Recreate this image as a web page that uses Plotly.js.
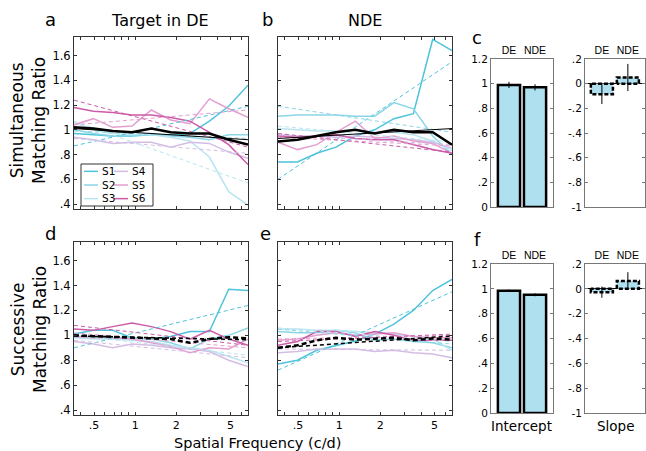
<!DOCTYPE html>
<html><head><meta charset="utf-8">
<script src="https://cdn.plot.ly/plotly-3.0.1.min.js"></script>
<style>html,body{margin:0;padding:0;background:#fff}#chart{width:646px;height:451px}</style>
</head><body><div id="chart"></div>
<script>
// ---------- data ----------
const freq = [0.356, 0.494, 0.684, 0.948, 1.314, 1.82, 2.52, 3.50, 4.85, 6.72];
const subjects = ['S1', 'S2', 'S3', 'S4', 'S5', 'S6'];

// Simultaneous matching, target in DE (panel a)
const simDE = [
  [0.97, 0.96, 0.95, 0.95, 0.96, 0.96, 0.97, 1.07, 1.19, 1.36],
  [1.00, 0.97, 0.95, 0.96, 0.97, 0.95, 0.94, 0.92, 0.96, 0.96],
  [1.06, 1.00, 0.97, 0.96, 0.96, 0.94, 0.91, 0.78, 0.50, 0.39],
  [0.94, 0.92, 0.89, 0.90, 0.90, 0.86, 0.90, 0.89, 0.82, 0.77],
  [1.04, 1.09, 1.02, 1.03, 1.16, 1.08, 1.05, 1.25, 1.17, 1.10],
  [1.18, 1.15, 1.14, 1.12, 1.12, 1.10, 1.07, 0.98, 0.88, 0.72]
];
const simDEfit = [[0.87, 1.19], [0.99, 0.93], [1.07, 0.57], [0.93, 0.81], [1.04, 1.16], [1.24, 0.86]];
const simDEmean = [1.02, 1.01, 0.99, 0.98, 1.01, 0.98, 0.97, 0.97, 0.92, 0.88];
const simDEmeanFit = [1.01, 0.92];

// Simultaneous matching, target in NDE (panel b)
const simNDE = [
  [0.74, 0.74, 0.81, 0.86, 0.95, 1.00, 1.09, 1.13, 1.73, 1.64],
  [1.11, 1.12, 1.12, 1.12, 1.11, 1.11, 1.22, 1.17, 0.95, 0.80],
  [1.01, 1.00, 0.99, 0.99, 1.00, 0.98, 0.98, 0.96, 0.91, 0.83],
  [0.96, 0.95, 0.95, 0.94, 0.95, 0.94, 0.93, 0.92, 0.90, 0.85],
  [0.90, 0.84, 0.88, 0.98, 1.07, 0.93, 0.95, 0.91, 0.89, 0.81],
  [0.95, 0.94, 0.95, 0.96, 0.93, 0.92, 0.92, 0.88, 0.84, 0.81]
];
const simNDEfit = [[0.60, 1.55], [1.19, 0.98], [1.03, 0.90], [0.96, 0.88], [0.94, 0.87], [0.97, 0.82]];
const simNDEmean = [0.905, 0.92, 0.95, 0.98, 1.00, 0.97, 1.00, 0.98, 0.98, 0.88];
const simNDEmeanFit = [0.93, 1.01];

// Successive matching, target in DE (panel d)
const sucDE = [
  [1.01, 1.04, 1.04, 0.98, 0.97, 0.99, 1.03, 1.03, 1.37, 1.36],
  [0.99, 0.99, 0.98, 0.98, 0.97, 0.94, 0.89, 0.97, 1.00, 1.06],
  [0.98, 0.97, 0.97, 0.96, 0.95, 0.92, 0.90, 0.88, 0.83, 0.78],
  [0.95, 0.93, 0.90, 0.93, 0.92, 0.90, 0.89, 0.87, 0.80, 0.75],
  [0.99, 0.98, 0.98, 0.97, 0.94, 0.91, 0.86, 0.90, 0.89, 0.97],
  [1.05, 1.04, 1.07, 1.10, 1.07, 1.03, 0.97, 1.04, 0.97, 0.92]
];
const sucDEfit = [[0.90, 1.24], [0.99, 0.96], [1.00, 0.84], [0.96, 0.82], [1.02, 0.90], [1.08, 0.92]];
const sucDEmean = [1.00, 0.995, 0.99, 0.985, 0.98, 0.97, 0.94, 0.97, 0.985, 0.975];
const sucDEmeanFit = [0.995, 0.965];

// Successive matching, target in NDE (panel e)
const sucNDE = [
  [0.77, 0.80, 0.88, 0.92, 0.955, 1.01, 1.09, 1.20, 1.36, 1.45],
  [1.03, 1.02, 1.02, 1.04, 1.02, 0.96, 0.97, 0.95, 0.94, 0.90],
  [1.05, 1.05, 1.04, 1.04, 1.03, 1.02, 1.01, 0.99, 0.97, 0.88],
  [0.86, 0.87, 0.89, 0.89, 0.89, 0.87, 0.88, 0.86, 0.85, 0.82],
  [0.96, 0.97, 1.00, 1.02, 1.00, 1.01, 1.02, 0.99, 0.98, 0.98],
  [0.92, 0.95, 1.03, 1.03, 0.99, 1.03, 1.00, 0.96, 0.96, 0.96]
];
const sucNDEfit = [[0.72, 1.35], [1.05, 0.93], [1.06, 0.95], [0.89, 0.88], [0.97, 1.00], [0.95, 1.01]];
const sucNDEmean = [0.90, 0.92, 0.96, 0.98, 0.965, 0.97, 0.98, 0.96, 0.975, 0.965];
const sucNDEmeanFit = [0.90, 0.995];

// Bar panels (c, f)
const eyes = ['DE', 'NDE'];
const simIntercept = [0.99, 0.97];
const simInterceptErr = [0.025, 0.025];
const simSlope = [-0.085, 0.05];
const simSlopeErr = [0.08, 0.11];
const sucIntercept = [0.985, 0.952];
const sucInterceptErr = [0.01, 0.012];
const sucSlope = [-0.027, 0.064];
const sucSlopeErr = [0.045, 0.07];

const ratioTicks = [0.4, 0.6, 0.8, 1.0, 1.2, 1.4, 1.6];
const ratioLabels = ['.4', '.6', '.8', '1', '1.2', '1.4', '1.6'];
const freqTicks = [0.4, 0.5, 0.6, 0.7, 0.8, 0.9, 1, 2, 3, 4, 5, 6];
const freqLabels = ['', '.5', '', '', '', '', '1', '2', '', '', '5', ''];
const interceptTicks = [0, 0.2, 0.4, 0.6, 0.8, 1.0, 1.2];
const interceptLabels = ['0', '.2', '.4', '.6', '.8', '1', '1.2'];
const slopeTicks = [-1, -0.8, -0.6, -0.4, -0.2, 0, 0.2];
const slopeLabels = ['-1', '-.8', '-.6', '-.4', '-.2', '0', '.2'];

// ---------- styles ----------
const colors = ['#4ec3da', '#8ad5e6', '#b9e5f1', '#d3bde4', '#e49ed0', '#cc5ba7'];
const barFill = '#aee0f0';
const W = 646, H = 451;
const fx = p => p / W, fy = p => 1 - p / H;
const TICKFONT = {family: 'DejaVu Sans, sans-serif', size: 11.5, color: '#000'};

const traces = [];
const last = freq.length - 1;
function linePanel(data, fits, mean, meanFit, xa, ya, meanDash) {
  subjects.forEach((s, i) => {
    traces.push({x: freq, y: data[i], xaxis: xa, yaxis: ya, mode: 'lines', name: s,
      line: {color: colors[i], width: 1.5}, showlegend: false, hoverinfo: 'skip'});
  });
  subjects.forEach((s, i) => {
    traces.push({x: [freq[0], freq[last]], y: fits[i], xaxis: xa, yaxis: ya, mode: 'lines', name: s + ' fit',
      line: {color: colors[i], width: 1, dash: '4px,3px'}, showlegend: false, hoverinfo: 'skip'});
  });
  traces.push({x: [freq[0], freq[last]], y: meanFit, xaxis: xa, yaxis: ya, mode: 'lines', name: 'mean fit',
    line: {color: '#000', width: meanDash ? 1.5 : 1, dash: meanDash ? '4px,3px' : 'solid'}, showlegend: false, hoverinfo: 'skip'});
  traces.push({x: freq, y: mean, xaxis: xa, yaxis: ya, mode: 'lines', name: 'mean',
    line: {color: '#000', width: 2.5, dash: meanDash ? '5px,3px' : 'solid'}, showlegend: false, hoverinfo: 'skip'});
}
linePanel(simDE, simDEfit, simDEmean, simDEmeanFit, 'x', 'y', false);
linePanel(simNDE, simNDEfit, simNDEmean, simNDEmeanFit, 'x2', 'y2', false);
linePanel(sucDE, sucDEfit, sucDEmean, sucDEmeanFit, 'x3', 'y3', true);
linePanel(sucNDE, sucNDEfit, sucNDEmean, sucNDEmeanFit, 'x4', 'y4', true);

const barPos = [1, 2];
const barW = 0.85;
function barPanel(vals, errs, xa, ya, dashed) {
  traces.push({type: 'bar', x: barPos, y: vals, width: barW, xaxis: xa, yaxis: ya,
    marker: {color: barFill, line: {color: '#000', width: dashed ? 0 : 2.5}},
    error_y: {type: 'data', array: errs, color: '#000', thickness: 1, width: 0},
    showlegend: false, hoverinfo: 'skip'});
  if (dashed) {
    vals.forEach((v, i) => {
      const a = barPos[i] - barW / 2, b = barPos[i] + barW / 2;
      traces.push({x: [a, a, b, b, a], y: [0, v, v, 0, 0], xaxis: xa, yaxis: ya, mode: 'lines',
        line: {color: '#000', width: 2.5, dash: '4px,2px'}, showlegend: false, hoverinfo: 'skip'});
    });
  }
}
barPanel(simIntercept, simInterceptErr, 'x5', 'y5', false);
barPanel(simSlope, simSlopeErr, 'x6', 'y6', true);
barPanel(sucIntercept, sucInterceptErr, 'x7', 'y7', false);
barPanel(sucSlope, sucSlopeErr, 'x8', 'y8', true);

// ---------- axes ----------
function freqAxis(x0, x1, anchor, labels) {
  return {domain: [fx(x0), fx(x1)], anchor: anchor, type: 'log',
    range: [Math.log10(freq[0]), Math.log10(freq[last])],
    tickmode: 'array', tickvals: freqTicks, ticktext: freqLabels, showticklabels: labels,
    ticks: 'inside', ticklen: 3, tickcolor: '#333', showline: true, linecolor: '#333', linewidth: 1,
    mirror: 'ticks', showgrid: false, zeroline: false,
    tickfont: {family: 'DejaVu Sans, sans-serif', size: 11, color: '#000'}};
}
function ratioAxis(y0, y1, anchor, labels) {
  return {domain: [fy(y1), fy(y0)], anchor: anchor, range: [0.36, 1.75],
    tickmode: 'array', tickvals: ratioTicks, ticktext: ratioLabels, showticklabels: labels,
    ticks: 'inside', ticklen: 3, tickcolor: '#333', showline: true, linecolor: '#333', linewidth: 1,
    mirror: 'ticks', showgrid: false, zeroline: false, tickfont: TICKFONT};
}
function eyeAxis(x0, x1, anchor, range) {
  return {domain: [fx(x0), fx(x1)], anchor: anchor, range: range, side: 'top',
    tickmode: 'array', tickvals: barPos, ticktext: eyes, ticks: '',
    showline: true, linecolor: '#777', linewidth: 1, mirror: true, showgrid: false, zeroline: false,
    tickfont: {family: 'Liberation Sans, Arial, sans-serif', size: 10.5, color: '#000'}};
}
function valAxis(y0, y1, anchor, range, tv, tt, zl) {
  return {domain: [fy(y1), fy(y0)], anchor: anchor, range: range,
    tickmode: 'array', tickvals: tv, ticktext: tt,
    ticks: 'inside', ticklen: 3, tickcolor: '#777', showline: true, linecolor: '#777', linewidth: 1,
    mirror: 'ticks', showgrid: false, zeroline: zl, zerolinecolor: '#000', zerolinewidth: 1,
    tickfont: {family: 'DejaVu Sans, sans-serif', size: 10.5, color: '#000'}};
}

const annotations = [];
function ann(text, x, y, size, extra) {
  annotations.push(Object.assign({text: text, x: fx(x), y: fy(y), xref: 'paper', yref: 'paper',
    showarrow: false, xanchor: 'center', yanchor: 'middle',
    font: {family: 'DejaVu Sans, sans-serif', size: size, color: '#000'}}, extra || {}));
}
ann('a', 50, 20, 18); ann('b', 267, 20, 18); ann('c', 477, 38, 18);
ann('d', 50, 233, 18); ann('e', 265, 233, 18); ann('f', 477, 240, 18);
ann('Target in DE', 160, 21, 16);
ann('NDE', 365, 21, 16);
ann('Simultaneous<br>Matching Ratio', 28, 121, 17, {textangle: -90});
ann('Successive<br>Matching Ratio', 29, 330, 17, {textangle: -90});
ann('Spatial Frequency (c/d)', 257, 442.5, 14.5, {borderpad: 0});
ann('Intercept', 521, 426, 13.5);
ann('Slope', 615, 426, 13.5);

// manual compact legend inside panel a (two columns, one text block per column)
const legFont = 10.5, legRow = legFont * 1.3, legMid = 185;
const shapes = [{type: 'rect', xref: 'paper', yref: 'paper', x0: fx(81), x1: fx(153), y0: fy(206), y1: fy(164),
  line: {color: '#333', width: 1}, fillcolor: '#fff', layer: 'above'}];
[0, 1].forEach(col => {
  const lx = col === 0 ? 84 : 114;
  const names = subjects.slice(col * 3, col * 3 + 3);
  names.forEach((s, r) => {
    const i = col * 3 + r, ty = legMid + (r - 1) * legRow;
    shapes.push({type: 'line', xref: 'paper', yref: 'paper', x0: fx(lx), x1: fx(lx + 14), y0: fy(ty), y1: fy(ty),
      line: {color: colors[i], width: 1.5}, layer: 'above'});
  });
  ann(names.join('<br>'), lx + 16, legMid, legFont, {xanchor: 'left', align: 'left',
    font: {family: 'DejaVu Sans, sans-serif', size: legFont, color: '#000'}});
});

const layout = {
  width: W, height: H, margin: {l: 0, r: 0, t: 0, b: 0},
  paper_bgcolor: '#fff', plot_bgcolor: '#fff', showlegend: false,
  xaxis: freqAxis(74, 248, 'y', false), yaxis: ratioAxis(37, 209, 'x', true),
  xaxis2: freqAxis(278, 452, 'y2', false), yaxis2: ratioAxis(37, 209, 'x2', false),
  xaxis3: freqAxis(74, 248, 'y3', true), yaxis3: ratioAxis(242, 415, 'x3', true),
  xaxis4: freqAxis(278, 452, 'y4', true), yaxis4: ratioAxis(242, 415, 'x4', false),
  xaxis5: eyeAxis(491, 553, 'y5', [0.31, 2.69]), yaxis5: valAxis(59, 207, 'x5', [0, 1.2], interceptTicks, interceptLabels, false),
  xaxis6: eyeAxis(585, 645, 'y6', [0.35, 2.66]), yaxis6: valAxis(59, 207, 'x6', [-1, 0.2], slopeTicks, slopeLabels, true),
  xaxis7: eyeAxis(491, 553, 'y7', [0.31, 2.69]), yaxis7: valAxis(264, 413, 'x7', [0, 1.2], interceptTicks, interceptLabels, false),
  xaxis8: eyeAxis(585, 645, 'y8', [0.35, 2.66]), yaxis8: valAxis(264, 413, 'x8', [-1, 0.2], slopeTicks, slopeLabels, true),
  annotations: annotations, shapes: shapes
};
Plotly.newPlot('chart', traces, layout, {displayModeBar: false, staticPlot: true});
</script></body></html>
